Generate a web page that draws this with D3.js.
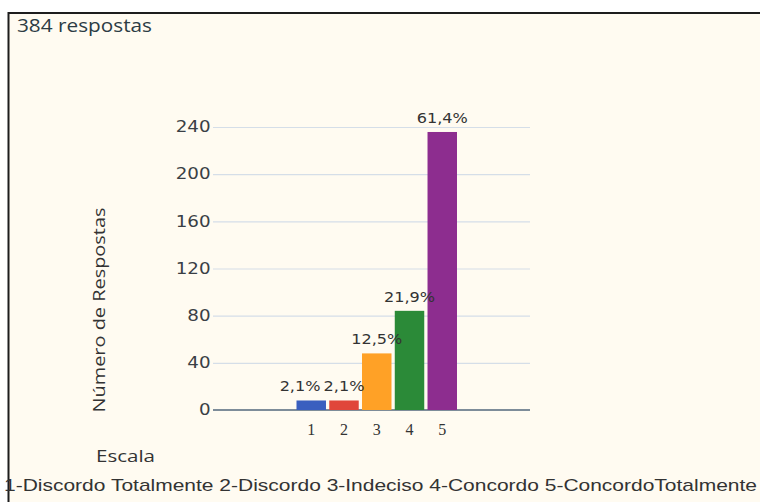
<!DOCTYPE html>
<html>
<head>
<meta charset="utf-8">
<script src="https://cdn.jsdelivr.net/npm/d3@7"></script>
<style>
  html, body { margin: 0; padding: 0; background: #ffffff; }
  svg { display: block; }
</style>
</head>
<body>
<svg id="chart" width="760" height="502"></svg>
<script>
// Survey answers on a 1–5 agreement scale
const categories = ["1", "2", "3", "4", "5"];
const percentages = [2.1, 2.1, 12.5, 21.9, 61.4];
const totalResponses = 384;
const barColors = ["#3a5fbf", "#e0463a", "#ffa126", "#2b8a38", "#8d2d8f"];
const yTicks = [0, 40, 80, 120, 160, 200, 240];
const titleText = "384 respostas";
const yAxisTitle = "Número de Respostas";
const xAxisTitle = "Escala";
const scaleLegend = "1-Discordo Totalmente 2-Discordo 3-Indeciso 4-Concordo 5-ConcordoTotalmente";

const svg = d3.select("#chart");
const W = 760, H = 502;

// panel background and frame
svg.append("rect").attr("x", 8).attr("y", 12).attr("width", W - 8).attr("height", H - 12)
  .attr("fill", "#fffbf1");
svg.append("line").attr("x1", 8).attr("x2", W).attr("y1", 13).attr("y2", 13)
  .attr("stroke", "#1d1d1d").attr("stroke-width", 2);
svg.append("line").attr("x1", 8.5).attr("x2", 8.5).attr("y1", 12).attr("y2", H)
  .attr("stroke", "#1d1d1d").attr("stroke-width", 2);

// scales
const plotLeft = 213, plotRight = 530;
const y = d3.scaleLinear().domain([0, 240]).range([410, 127]);
const x = d3.scaleBand().domain(categories).range([296.5, 457]).paddingInner(0.1).paddingOuter(0);

const counts = percentages.map(p => p / 100 * totalResponses);

// y axis with gridlines
const yAxis = svg.append("g")
  .attr("transform", `translate(${plotLeft},0)`)
  .call(d3.axisLeft(y).tickValues(yTicks).tickSize(-(plotRight - plotLeft)).tickPadding(2));
yAxis.select(".domain").remove();
yAxis.selectAll(".tick line").attr("stroke", "#d5dee8").attr("stroke-width", 1.2);
yAxis.selectAll(".tick text")
  .attr("font-family", "'DejaVu Sans', sans-serif")
  .attr("font-size", 15)
  .attr("fill", "#3a3f45")
  .attr("transform", "scale(1.22,1)");

// baseline
svg.append("line")
  .attr("x1", plotLeft).attr("x2", plotRight)
  .attr("y1", y(0)).attr("y2", y(0))
  .attr("stroke", "#7d8c99").attr("stroke-width", 2);

// bars
svg.append("g").selectAll("rect")
  .data(categories)
  .join("rect")
  .attr("x", d => x(d))
  .attr("width", x.bandwidth())
  .attr("y", (d, i) => y(counts[i]))
  .attr("height", (d, i) => y(0) - y(counts[i]))
  .attr("fill", (d, i) => barColors[i]);

// percentage labels above the bars
const labelStretch = 1.15;
const labels = svg.append("g").selectAll("text")
  .data(categories)
  .join("text")
  .attr("text-anchor", "middle")
  .attr("font-family", "'DejaVu Sans', sans-serif")
  .attr("font-size", 14)
  .attr("fill", "#333")
  .text((d, i) => percentages[i].toFixed(1).replace(".", ",") + "%");

// centre each label on its bar, then nudge colliding labels leftwards
const boxes = labels.nodes().map((node, i) => {
  const w = node.getComputedTextLength() * labelStretch;
  const cx = x(categories[i]) + x.bandwidth() / 2;
  const baseY = y(counts[i]) - 9;
  return { cx, w, baseY };
});
for (let i = boxes.length - 2; i >= 0; i--) {
  const a = boxes[i], b = boxes[i + 1];
  const sameRow = Math.abs(a.baseY - b.baseY) < 14;
  const overlap = (a.cx + a.w / 2 + 3) - (b.cx - b.w / 2);
  if (sameRow && overlap > 0) a.cx -= overlap;
}
labels.attr("transform", (d, i) =>
  `translate(${boxes[i].cx},${boxes[i].baseY}) scale(${labelStretch},1)`);

// category axis
const xAxis = svg.append("g")
  .attr("transform", `translate(0,${y(0)})`)
  .call(d3.axisBottom(x).tickSize(0).tickPadding(14));
xAxis.select(".domain").remove();
xAxis.selectAll(".tick text")
  .attr("font-family", "'Liberation Serif', serif")
  .attr("font-size", 16)
  .attr("fill", "#333");

// titles
svg.append("text")
  .attr("x", 17).attr("y", 32)
  .attr("font-family", "'Open Sans', sans-serif")
  .attr("font-size", 18)
  .attr("fill", "#2c3c44")
  .attr("textLength", 135).attr("lengthAdjust", "spacingAndGlyphs")
  .text(titleText);

svg.append("text")
  .attr("transform", "translate(105,310) rotate(-90)")
  .attr("text-anchor", "middle")
  .attr("font-family", "'Open Sans', sans-serif")
  .attr("font-size", 17)
  .attr("fill", "#333")
  .attr("textLength", 205).attr("lengthAdjust", "spacingAndGlyphs")
  .text(yAxisTitle);

svg.append("text")
  .attr("x", 96).attr("y", 462)
  .attr("font-family", "'Open Sans', sans-serif")
  .attr("font-size", 17)
  .attr("fill", "#333")
  .attr("textLength", 59).attr("lengthAdjust", "spacingAndGlyphs")
  .text(xAxisTitle);

svg.append("text")
  .attr("x", 4).attr("y", 491)
  .attr("font-family", "'Liberation Sans', Arial, sans-serif")
  .attr("font-size", 17)
  .attr("fill", "#333")
  .attr("textLength", 753).attr("lengthAdjust", "spacingAndGlyphs")
  .text(scaleLegend);
</script>
</body>
</html>
